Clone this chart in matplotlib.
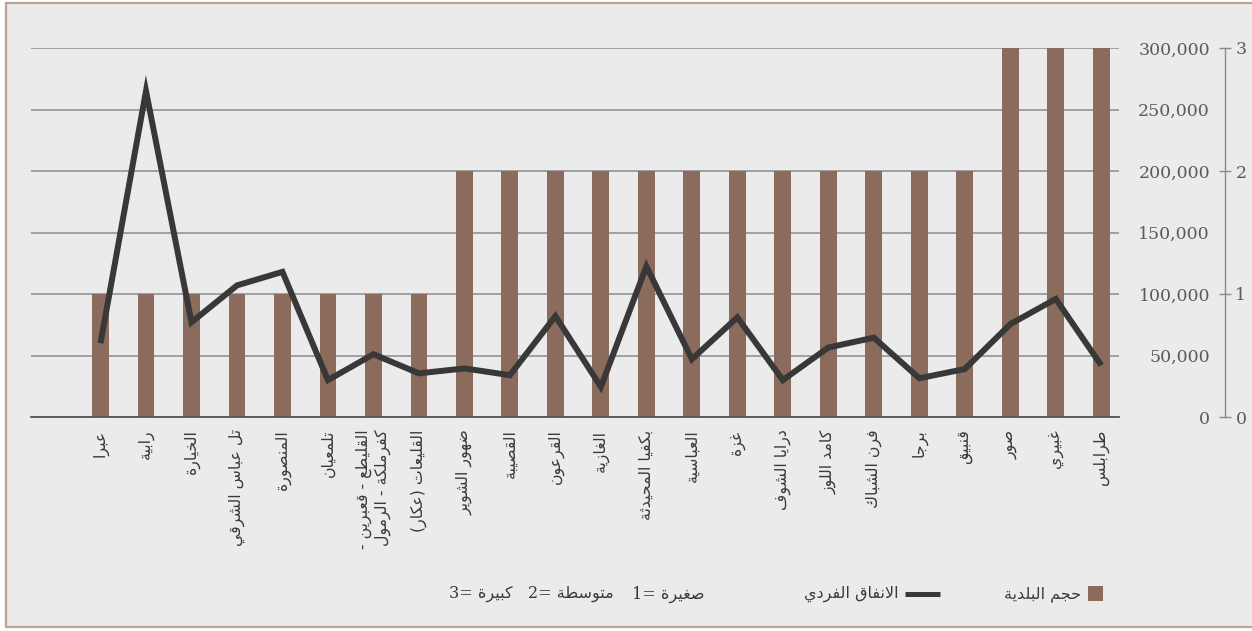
import matplotlib
matplotlib.use("Agg")
import matplotlib.pyplot as plt
from matplotlib.patches import Rectangle
from matplotlib.lines import Line2D
from matplotlib.ticker import FuncFormatter, MultipleLocator, FixedLocator

# ---------------- data ----------------
municipalities = [
    "عبرا", "رابية", "الخيارة", "تل عباس الشرقي", "المنصورة", "تلمعيان",
    "القليطع - قعبرين -\nكفرملكة - الرمول", "القليعات (عكار)", "ضهور الشوير",
    "القصيبة", "القرعون", "الغازية", "بكفيا المحيدثة", "العباسية", "غزة",
    "درايا الشوف", "كامد اللوز", "فرن الشباك", "برجا", "قنبيق", "صور",
    "غبيري", "طرابلس",
]
size_class = [1, 1, 1, 1, 1, 1, 1, 1, 2, 2, 2, 2, 2, 2, 2, 2, 2, 2, 2, 2, 3, 3, 3]
spending_per_capita = [
    60000, 265000, 77000, 107000, 118000, 30000, 51000, 35500, 39500, 34000,
    82000, 24500, 122500, 47000, 81000, 30000, 56500, 64500, 31500, 39000,
    75500, 96000, 42000,
]
size_ticks = [0, 1, 2, 3]
spending_ticks = [0, 50000, 100000, 150000, 200000, 250000, 300000]
legend_bars = "حجم البلدية"
legend_line = "الانفاق الفردي"
size_notes = [("1", "صغيرة"), ("2", "متوسطة"), ("3", "كبيرة")]

# ---------------- Arabic contextual shaping ----------------
_DUAL = {
    'ئ': 0xFE89, 'ب': 0xFE8F, 'ت': 0xFE95, 'ث': 0xFE99, 'ج': 0xFE9D, 'ح': 0xFEA1,
    'خ': 0xFEA5, 'س': 0xFEB1, 'ش': 0xFEB5, 'ص': 0xFEB9, 'ض': 0xFEBD, 'ط': 0xFEC1,
    'ظ': 0xFEC5, 'ع': 0xFEC9, 'غ': 0xFECD, 'ف': 0xFED1, 'ق': 0xFED5, 'ك': 0xFED9,
    'ل': 0xFEDD, 'م': 0xFEE1, 'ن': 0xFEE5, 'ه': 0xFEE9, 'ي': 0xFEF1,
}
_RIGHT = {
    'آ': 0xFE81, 'أ': 0xFE83, 'ؤ': 0xFE85, 'إ': 0xFE87, 'ا': 0xFE8D, 'ة': 0xFE93,
    'د': 0xFEA9, 'ذ': 0xFEAB, 'ر': 0xFEAD, 'ز': 0xFEAF, 'و': 0xFEED, 'ى': 0xFEEF,
}
_LAMALEF = {'ا': 0xFEFB, 'أ': 0xFEF7, 'إ': 0xFEF9, 'آ': 0xFEF5}


def _shape_line(s):
    units = []
    i = 0
    while i < len(s):
        c = s[i]
        if c == 'ل' and i + 1 < len(s) and s[i + 1] in _LAMALEF:
            units.append(('LA', s[i + 1]))
            i += 2
        else:
            units.append((c, None))
            i += 1

    def is_ar(u):
        return u[0] == 'LA' or u[0] in _DUAL or u[0] in _RIGHT

    out = []
    for k, u in enumerate(units):
        prev = units[k - 1] if k > 0 else None
        nxt = units[k + 1] if k + 1 < len(units) else None
        p = prev is not None and prev[0] in _DUAL
        if u[0] == 'LA':
            out.append(chr(_LAMALEF[u[1]] + (1 if p else 0)))
        elif u[0] in _DUAL:
            n = nxt is not None and is_ar(nxt)
            off = 3 if (p and n) else 2 if n else 1 if p else 0
            out.append(chr(_DUAL[u[0]] + off))
        elif u[0] in _RIGHT:
            out.append(chr(_RIGHT[u[0]] + (1 if p else 0)))
        else:
            out.append(u[0])
    vis = ''.join(reversed(out))
    return vis.translate(str.maketrans('()', ')('))


def ar(s):
    return '\n'.join(_shape_line(line) for line in s.split('\n'))


# ---------------- style ----------------
BG = "#ebebeb"
BAR = "#8b6b5b"
LINE = "#383838"
GRID = "#8c8c8c"
TXT = "#3a3a3a"
NUM = "#5a5a5a"
ARFONT = ["DejaVu Sans"]
NUMFONT = ["DejaVu Serif", "DejaVu Sans"]

W, H = 1252, 631
fig = plt.figure(figsize=(W / 100, H / 100), dpi=100, facecolor="white")

# framed panel
fig.add_artist(Rectangle((6 / W, 4 / H), 1.2, (H - 7) / H, transform=fig.transFigure,
                         facecolor=BG, edgecolor="#b9a296", linewidth=1.6, zorder=0))

left, right, top, bottom = 31, 1119, 48, 417
ax = fig.add_axes([left / W, (H - bottom) / H, (right - left) / W, (bottom - top) / H])
ax.set_facecolor("none")

x = list(range(len(municipalities)))

# bars: municipality size class (0-3 scale)
ax.set_ylim(0, 3)
ax.set_xlim(-1.528, 22.39)
ax.grid(True, which="both", axis="y", color=GRID, linewidth=1.1, zorder=0)
ax.set_axisbelow(True)
ax.bar(x, size_class, width=0.37, color=BAR, zorder=2)

# line: per-capita spending (0-300,000 scale)
ax2 = ax.twinx()
ax2.set_ylim(0, 300000)
ax2.set_yticks(spending_ticks)
ax2.yaxis.set_major_formatter(FuncFormatter(lambda v, _: f"{int(v):,}"))
for s in ax2.spines.values():
    s.set_visible(False)
ax2.tick_params(axis="y", length=0, pad=91 * 0.72, labelsize=12.5, labelcolor=NUM)
for lab in ax2.get_yticklabels():
    lab.set_horizontalalignment("right")
    lab.set_fontfamily(NUMFONT)
ax2.plot(x, spending_per_capita, color=LINE, linewidth=4.3, zorder=3,
         solid_joinstyle="miter", solid_capstyle="butt")

# size-class axis sits on the far right, outside the spending labels
ax.yaxis.set_major_locator(FixedLocator(size_ticks))
ax.yaxis.set_minor_locator(MultipleLocator(0.5))
ax.yaxis.tick_right()
ax.yaxis.set_label_position("right")
for s in ("top", "left"):
    ax.spines[s].set_visible(False)
ax.spines["bottom"].set_color("#555555")
ax.spines["bottom"].set_linewidth(1.3)
ax.spines["right"].set_visible(True)
ax.spines["right"].set_position(("outward", 106 * 0.72))
ax.spines["right"].set_color("#8a8a8a")
ax.spines["right"].set_linewidth(1.0)
ax.tick_params(axis="y", which="major", direction="inout", length=9, width=1.0,
               color="#8a8a8a", pad=3, labelsize=12.5, labelcolor=NUM,
               left=False, labelleft=False, right=True, labelright=True)
ax.tick_params(axis="y", which="minor", length=0, left=False, right=False)
for lab in ax.get_yticklabels():
    lab.set_fontfamily(NUMFONT)

ax.set_xticks(x)
ax.set_xticklabels([ar(m) for m in municipalities], rotation=90, fontsize=11.3,
                   color=TXT, family=ARFONT, va="top", ha="center",
                   multialignment="right", linespacing=1.15)
ax.tick_params(axis="x", length=0, pad=9)

# ---------------- legend ----------------
ly = (H - 594) / H
fig.add_artist(Rectangle((1088 / W, (H - 601) / H), 15 / W, 15 / H,
                         transform=fig.transFigure, facecolor=BAR, edgecolor="none"))
fig.text(1081 / W, ly, ar(legend_bars), ha="right", va="center", fontsize=11.5,
         color=TXT, family=ARFONT)
fig.add_artist(Line2D([905 / W, 940 / W], [ly, ly], transform=fig.transFigure,
                      color=LINE, linewidth=3.6, solid_capstyle="butt"))
fig.text(898 / W, ly, ar(legend_line), ha="right", va="center", fontsize=11.5,
         color=TXT, family=ARFONT)
note_right = [704, 614, 513]
for (num, word), xr in zip(size_notes, note_right):
    fig.text(xr / W, ly, f"{num}= " + ar(word), ha="right", va="center", fontsize=11.5,
             color=TXT, family=NUMFONT)

fig.savefig("out.png", dpi=100, facecolor="white")
